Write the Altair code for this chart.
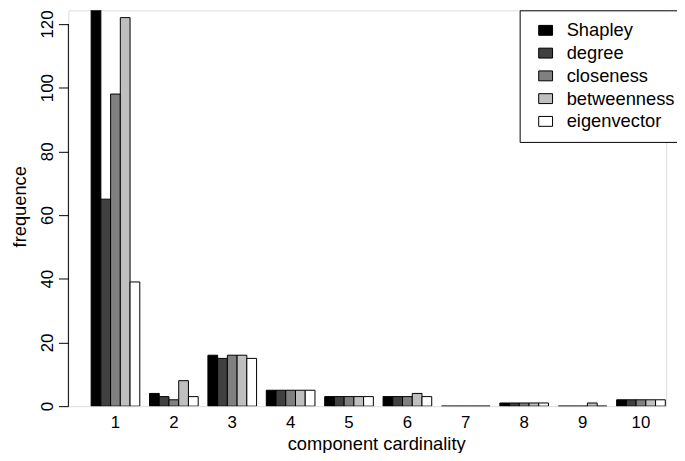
import altair as alt
import pandas as pd

categories = ["1", "2", "3", "4", "5", "6", "7", "8", "9", "10"]
measures = ["Shapley", "degree", "closeness", "betweenness", "eigenvector"]
shapley = [125, 4, 16, 5, 3, 3, 0, 1, 0, 2]
degree = [65, 3, 15, 5, 3, 3, 0, 1, 0, 2]
closeness = [98, 2, 16, 5, 3, 3, 0, 1, 0, 2]
betweenness = [122, 8, 16, 5, 3, 4, 0, 1, 1, 2]
eigenvector = [39, 3, 15, 5, 3, 3, 0, 1, 0, 2]
fills = ["#000000", "#404040", "#808080", "#bfbfbf", "#ffffff"]
y_ticks = [0, 20, 40, 60, 80, 100, 120]

series = [shapley, degree, closeness, betweenness, eigenvector]
rows = []
for i, c in enumerate(categories):
    for m, vals in zip(measures, series):
        rows.append({"cardinality": c, "measure": m, "frequence": vals[i]})
df = pd.DataFrame(rows)

FONT = "Liberation Sans"
FS = 17
TFS = 18.5
ydomain = [0, 124.3]

bars = alt.Chart(df).mark_bar(stroke="black", strokeWidth=1, clip=True).encode(
    x=alt.X(
        "cardinality:N",
        sort=categories,
        scale=alt.Scale(paddingInner=1 / 6, paddingOuter=0.202, align=0.965),
        axis=alt.Axis(
            title="component cardinality",
            labelAngle=0,
            domain=False,
            ticks=False,
            grid=False,
            labelPadding=9,
            labelBaseline="top",
            labelFontSize=FS,
            labelFont=FONT,
            labelColor="black",
            titleFontSize=TFS,
            titleFont=FONT,
            titleFontWeight="normal",
            titleColor="black",
            titleX=311,
            titleY=44,
            titleAlign="center",
            titleBaseline="alphabetic",
        ),
    ),
    xOffset=alt.XOffset("measure:N", sort=measures,
                        scale=alt.Scale(paddingInner=0, paddingOuter=0)),
    y=alt.Y(
        "frequence:Q",
        scale=alt.Scale(domain=ydomain, nice=False, zero=True),
        axis=alt.Axis(
            title="frequence",
            values=y_ticks,
            domain=False,
            grid=False,
            ticks=True,
            tickSize=10,
            tickColor="black",
            tickWidth=1,
            labelAngle=270,
            labelAlign="center",
            labelBaseline="alphabetic",
            labelPadding=6,
            labelFlush=False,
            labelOverlap=False,
            labelFontSize=FS,
            labelFont=FONT,
            labelColor="black",
            titleFontSize=TFS,
            titleFont=FONT,
            titleFontWeight="normal",
            titleColor="black",
            titleAngle=270,
            titleX=-43,
            titleY=198,
            titleAlign="center",
            titleBaseline="alphabetic",
        ),
    ),
    color=alt.Color(
        "measure:N",
        sort=measures,
        scale=alt.Scale(domain=measures, range=fills),
        legend=alt.Legend(
            title=None,
            orient="none",
            legendX=456,
            legendY=0,
            strokeColor="black",
            fillColor="white",
            padding=11,
            cornerRadius=0,
            symbolType="M-1,-0.714H1V0.714H-1Z",
            symbolSize=196,
            symbolStrokeColor="black",
            symbolStrokeWidth=1,
            symbolOpacity=1,
            symbolOffset=6,
            labelOffset=12,
            labelFontSize=TFS,
            labelFont=FONT,
            labelColor="black",
            rowPadding=4,
        ),
    ),
)

axis_line = alt.Chart(pd.DataFrame({"a": [0]})).mark_rule(color="black", strokeWidth=1).encode(
    x=alt.value(0),
    y=alt.datum(y_ticks[0]),
    y2=alt.datum(y_ticks[-1]),
)

chart = alt.layer(bars, axis_line).properties(
    width=604,
    height=400,
    autosize=alt.AutoSizeParams(type="none"),
    padding={"left": 61, "top": 0, "right": 11, "bottom": 45},
    background="white",
).configure_view(stroke=None).configure(font=FONT)

chart.save("out.html", embed_options={"renderer": "svg", "actions": False})
